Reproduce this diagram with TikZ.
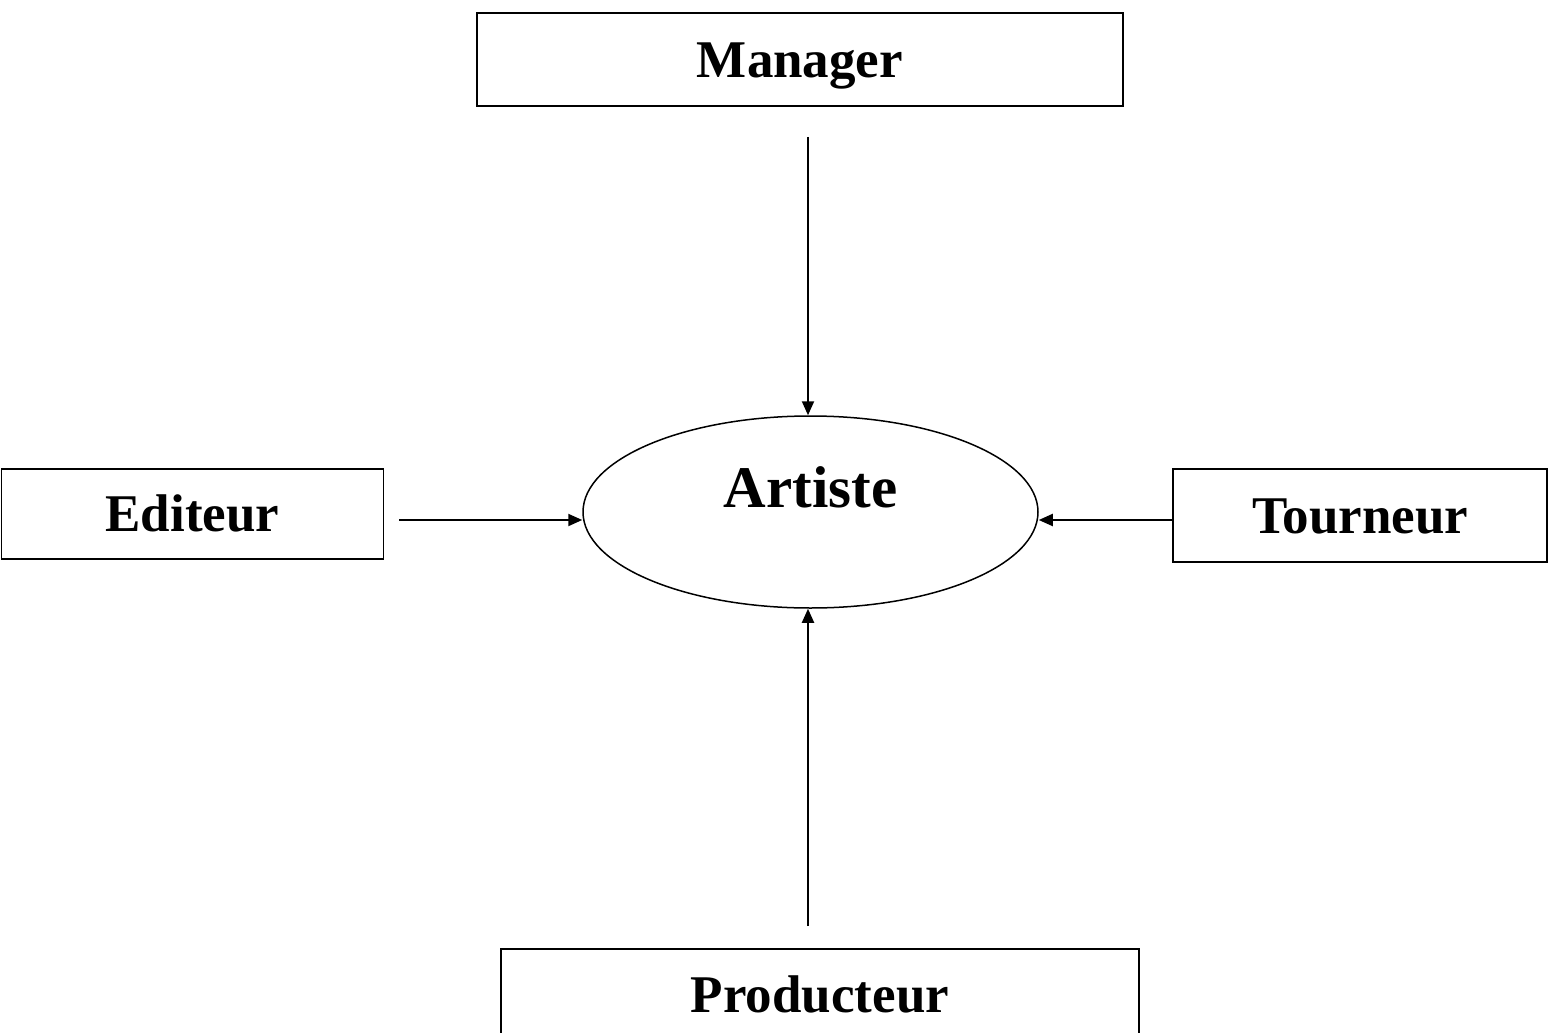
\documentclass[tikz,border=0pt]{standalone}
\usepackage{fontspec}
\setmainfont{Liberation Serif}
\usetikzlibrary{arrows.meta,shapes.geometric}
\begin{document}
\begin{tikzpicture}[x=0.5pt,y=-0.5pt,
  every node/.style={font=\fontsize{26.5}{30}\selectfont\bfseries, text height=17.5pt, text depth=0pt, inner sep=0pt},
  actor/.style={draw, line width=0.9pt, rectangle},
  centre/.style={draw, line width=0.75pt, ellipse, minimum width=227.5pt, minimum height=96pt,
    font=\fontsize{29.5}{33}\selectfont\bfseries, text height=19.5pt, text depth=24pt},
  arr/.style={line width=1pt, -{Triangle[length=7pt,width=6pt]}}
]
\useasboundingbox (0,0) rectangle (1553,1033);
\node[actor, minimum width=323pt, minimum height=46.5pt] (mgr) at (800,59.5) {Manager};
\node[actor, minimum width=191pt, minimum height=45pt] (ed) at (192.5,514) {Editeur};
\node[actor, minimum width=187pt, minimum height=46.5pt] (tour) at (1360,515.5) {Tourneur};
\node[actor, minimum width=319pt, minimum height=46pt] (prod) at (820,995) {Producteur};
\node[centre] (art) at (810.5,512) {Artiste};
\draw[arr] ([xshift=4pt,yshift=-15pt]mgr.south) -- ([xshift=4pt]mgr.south |- art.north);
\draw[arr] ([xshift=7.5pt,yshift=-3pt]ed.east) -- ([yshift=-4pt]art.west);
\draw[arr] ([yshift=-2.25pt]tour.west) -- ([yshift=-4pt]art.east);
\draw[arr] ([xshift=-6pt,yshift=11pt]prod.north) -- ([xshift=-6pt]prod.north |- art.south);
\end{tikzpicture}
\end{document}
